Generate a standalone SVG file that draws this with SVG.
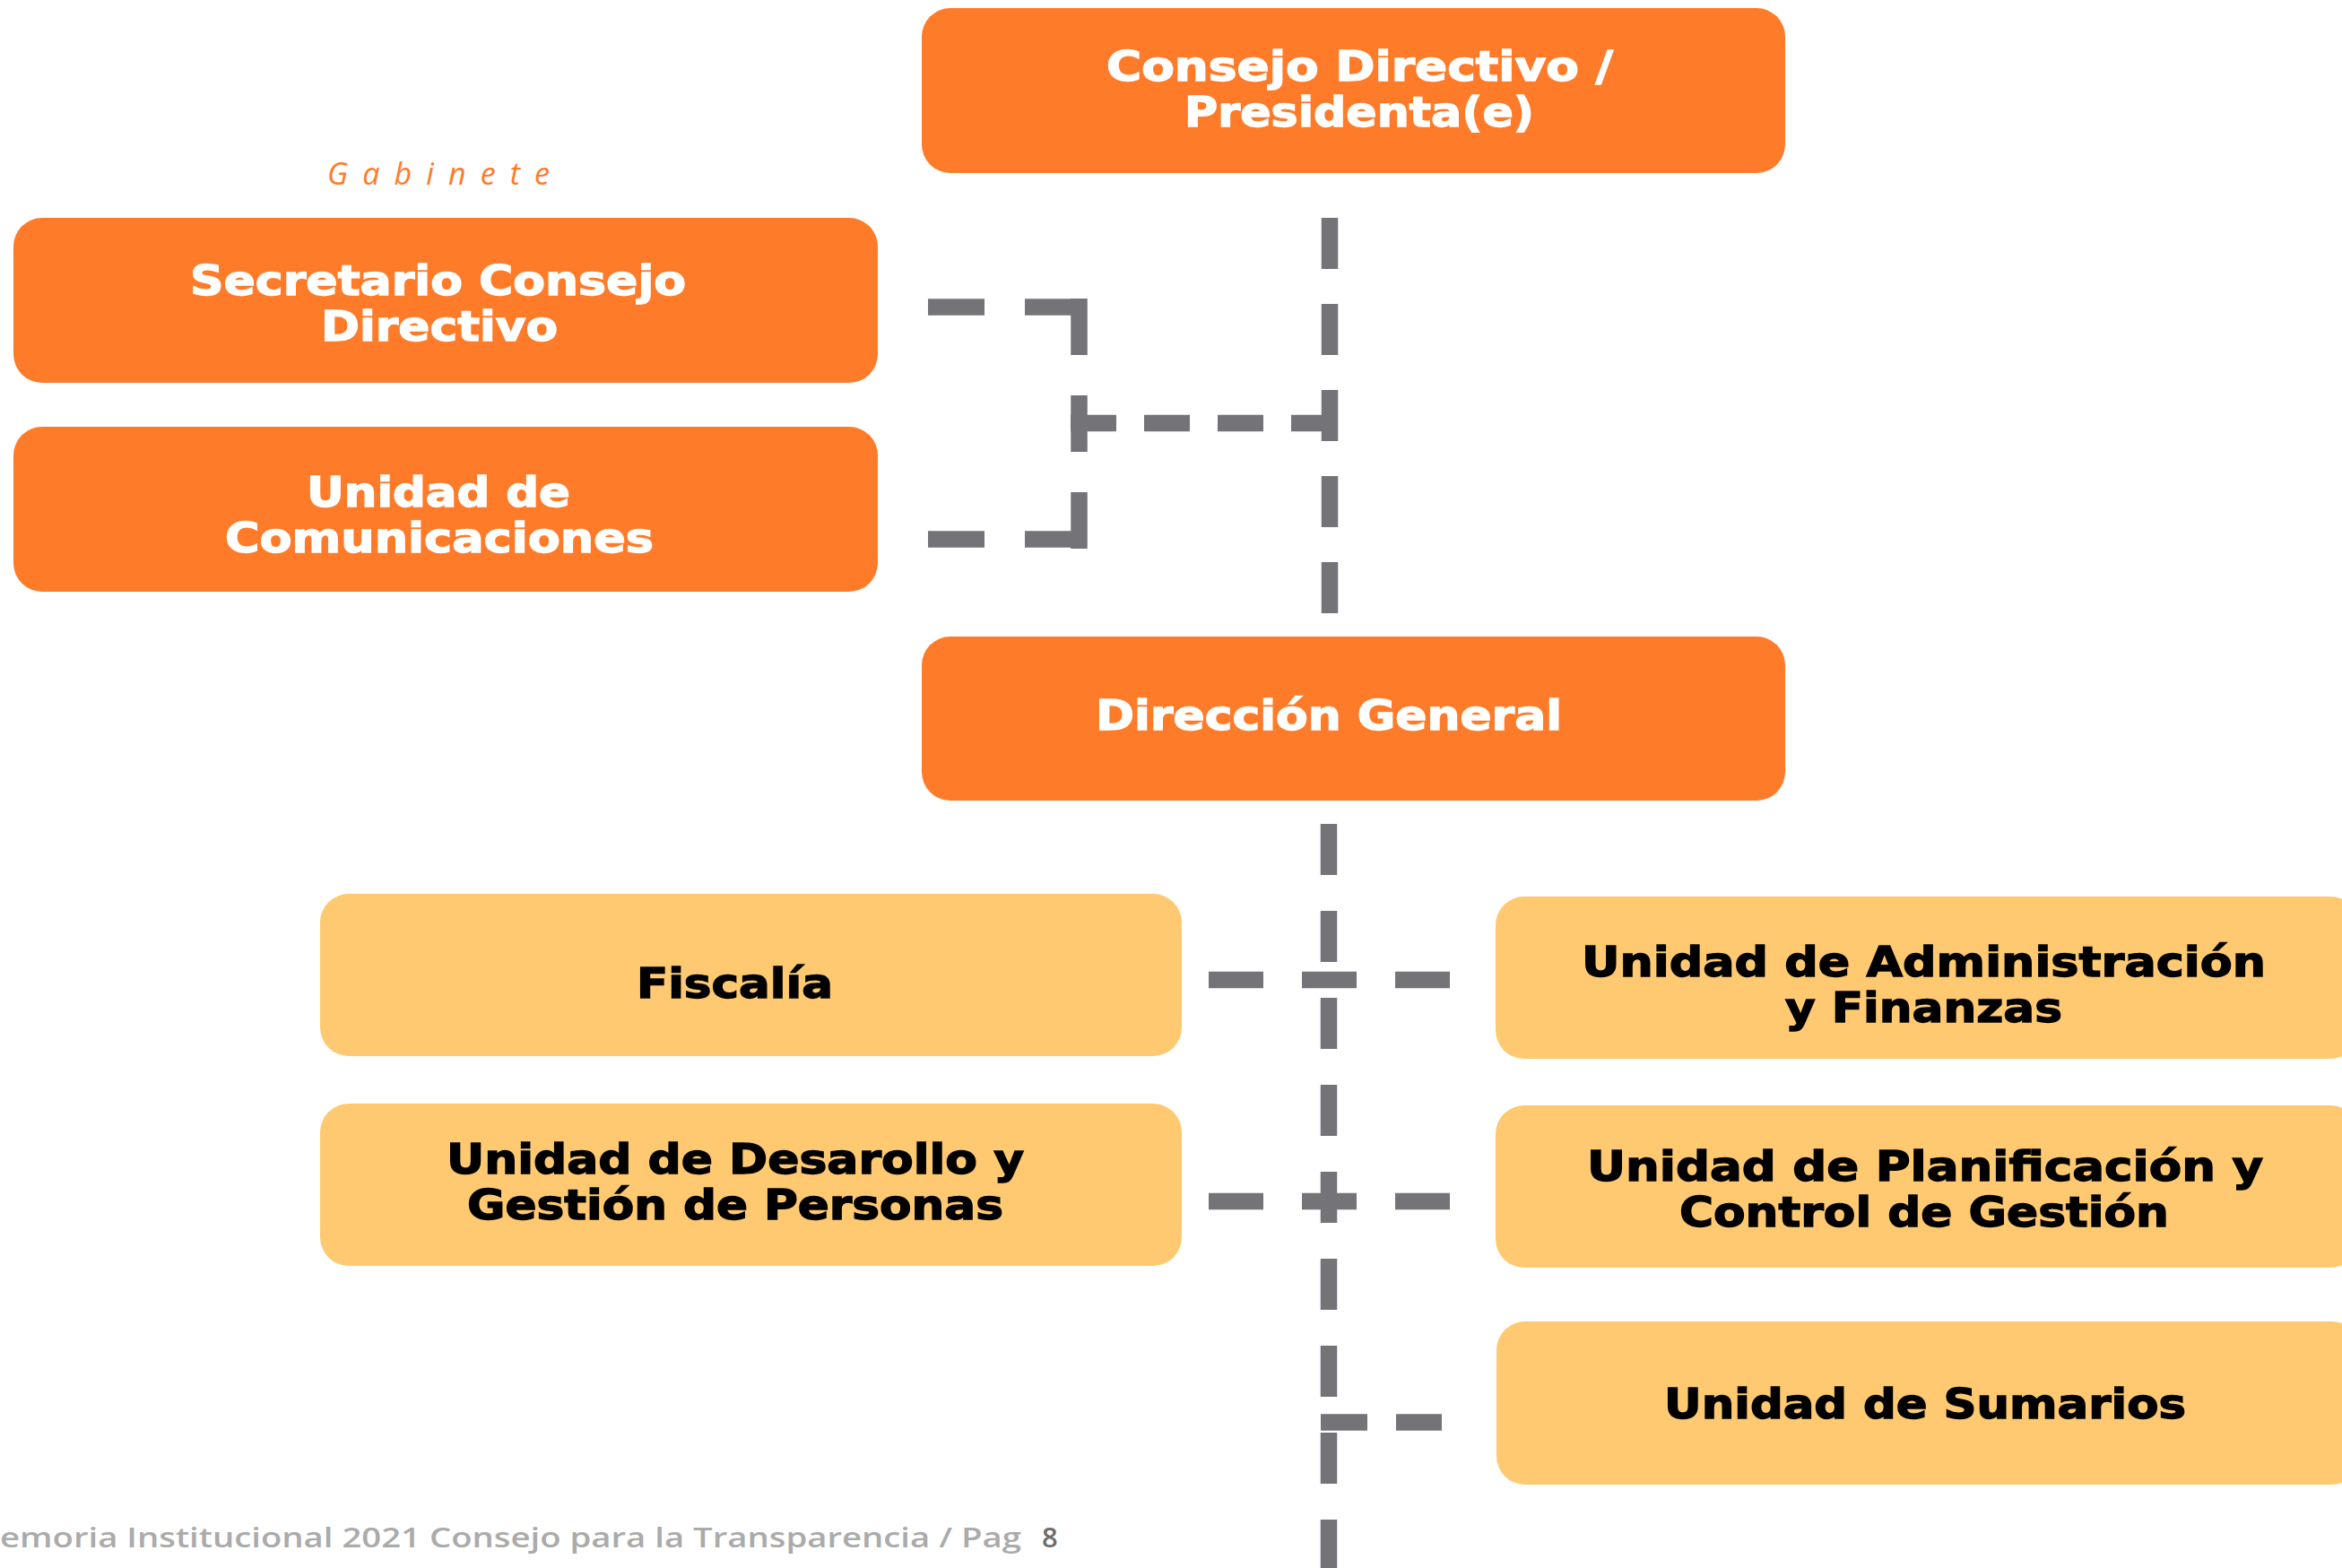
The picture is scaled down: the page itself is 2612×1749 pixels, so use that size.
<svg xmlns="http://www.w3.org/2000/svg" width="2612" height="1749" viewBox="0 0 2612 1749">
<style>
.o{fill:#FE7B2A}
.y{fill:#FEC970}
.tw{font-family:"DejaVu Sans","Liberation Sans",sans-serif;font-weight:bold;font-size:47px;fill:#FFFFFF;stroke:#FFFFFF;stroke-width:1.4;text-anchor:middle}
.tb{font-family:"DejaVu Sans","Liberation Sans",sans-serif;font-weight:bold;font-size:47px;fill:#000000;stroke:#000000;stroke-width:1.4;text-anchor:middle}
.c{fill:none;stroke:#747378;stroke-width:18.5}
.ft{font-family:"Open Sans","DejaVu Sans",sans-serif;font-weight:600;font-size:31px}
</style>
<rect width="2612" height="1749" fill="#FFFFFF"/>
<g id="connectors">
<line class="c" x1="1483" y1="243" x2="1483" y2="684" stroke-dasharray="57 39"/>
<line class="c" x1="1035" y1="342.5" x2="1206" y2="342.5" stroke-dasharray="63 45"/>
<line class="c" x1="1035" y1="601.5" x2="1206" y2="601.5" stroke-dasharray="63 45"/>
<line class="c" x1="1203.5" y1="333" x2="1203.5" y2="612" stroke-dasharray="63 45"/>
<line class="c" x1="1194" y1="472" x2="1483" y2="472" stroke-dasharray="51 31"/>
<line class="c" x1="1482" y1="919" x2="1482" y2="1749" stroke-dasharray="57 40"/>
<line class="c" x1="1348" y1="1093" x2="1619" y2="1093" stroke-dasharray="61 43"/>
<line class="c" x1="1348" y1="1340" x2="1619" y2="1340" stroke-dasharray="61 43"/>
<line class="c" x1="1473" y1="1586.5" x2="1608" y2="1586.5" stroke-dasharray="52 32"/>
</g>
<g id="consejo">
<rect class="o" x="1028" y="9" width="963" height="184" rx="32"/>
<text class="tw" x="1516.5" y="90" textLength="565" lengthAdjust="spacingAndGlyphs">Consejo Directivo /</text>
<text class="tw" x="1516" y="141" textLength="390" lengthAdjust="spacingAndGlyphs">Presidenta(e)</text>
</g>
<g id="gabinete">
<text x="489" y="206" font-family="'Open Sans','DejaVu Sans',sans-serif" font-weight="400" font-style="italic" font-size="34" fill="#FE7B2A" text-anchor="middle" textLength="248" lengthAdjust="spacing">Gabinete</text>
</g>
<g id="secretario">
<rect class="o" x="15" y="243" width="964" height="184" rx="32"/>
<text class="tw" x="488.5" y="329" textLength="553" lengthAdjust="spacingAndGlyphs">Secretario Consejo</text>
<text class="tw" x="490" y="380" textLength="264" lengthAdjust="spacingAndGlyphs">Directivo</text>
</g>
<g id="comunicaciones">
<rect class="o" x="15" y="476" width="964" height="184" rx="32"/>
<text class="tw" x="489" y="565" textLength="294" lengthAdjust="spacingAndGlyphs">Unidad de</text>
<text class="tw" x="490" y="616" textLength="478" lengthAdjust="spacingAndGlyphs">Comunicaciones</text>
</g>
<g id="direccion">
<rect class="o" x="1028" y="710" width="963" height="183" rx="32"/>
<text class="tw" x="1482" y="814" textLength="520" lengthAdjust="spacingAndGlyphs">Dirección General</text>
</g>
<g id="fiscalia">
<rect class="y" x="357" y="997" width="961" height="181" rx="32"/>
<text class="tb" x="819.5" y="1113" textLength="219" lengthAdjust="spacingAndGlyphs">Fiscalía</text>
</g>
<g id="desarollo">
<rect class="y" x="357" y="1231" width="961" height="181" rx="32"/>
<text class="tb" x="820" y="1309" textLength="644" lengthAdjust="spacingAndGlyphs">Unidad de Desarollo y</text>
<text class="tb" x="820" y="1360" textLength="598" lengthAdjust="spacingAndGlyphs">Gestión de Personas</text>
</g>
<g id="administracion">
<rect class="y" x="1668" y="1000" width="963" height="181" rx="32"/>
<text class="tb" x="2145.5" y="1089" textLength="763" lengthAdjust="spacingAndGlyphs">Unidad de Administración</text>
<text class="tb" x="2145.5" y="1140" textLength="309" lengthAdjust="spacingAndGlyphs">y Finanzas</text>
</g>
<g id="planificacion">
<rect class="y" x="1668" y="1233" width="963" height="181" rx="32"/>
<text class="tb" x="2147" y="1317" textLength="754" lengthAdjust="spacingAndGlyphs">Unidad de Planificación y</text>
<text class="tb" x="2146" y="1368" textLength="546" lengthAdjust="spacingAndGlyphs">Control de Gestión</text>
</g>
<g id="sumarios">
<rect class="y" x="1669" y="1474" width="963" height="182" rx="32"/>
<text class="tb" x="2147" y="1582" textLength="582" lengthAdjust="spacingAndGlyphs">Unidad de Sumarios</text>
</g>
<g id="footer">
<text class="ft" x="0" y="1726" fill="#ABABAB" textLength="1139" lengthAdjust="spacingAndGlyphs">emoria Institucional 2021 Consejo para la Transparencia / Pag</text>
<text class="ft" x="1162" y="1726" fill="#6D6D6D">8</text>
</g>
</svg>
